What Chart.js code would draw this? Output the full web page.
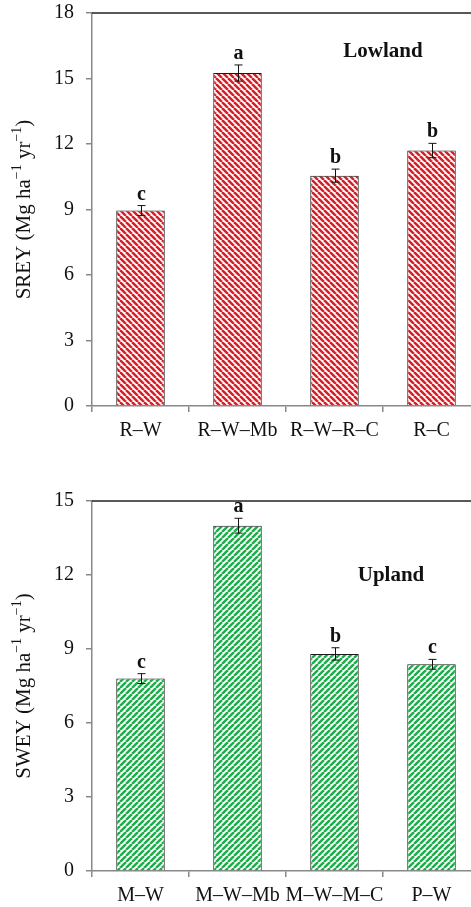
<!DOCTYPE html>
<html>
<head>
<meta charset="utf-8">
<script src="https://cdn.jsdelivr.net/npm/chart.js@4.4.1/dist/chart.umd.min.js"></script>
<style>
html, body { margin: 0; padding: 0; background: #fff; overflow: hidden; width: 471px; height: 907px; }
.box { position: absolute; left: 0; width: 500px; }
#topBox { top: 0; height: 445px; }
#bottomBox { top: 460px; height: 447px; }
</style>
</head>
<body>
<div class="box" id="topBox"><canvas id="lowlandChart"></canvas></div>
<div class="box" id="bottomBox"><canvas id="uplandChart"></canvas></div>
<script>
// Lowland panel (rice based systems)
const lowlandSystems = ['R–W', 'R–W–Mb', 'R–W–R–C', 'R–C'];
const lowlandSrey = [8.95, 15.25, 10.55, 11.7];
const lowlandErr = [0.23, 0.37, 0.3, 0.33];
const lowlandLetters = ['c', 'a', 'b', 'b'];
const lowlandTicks = [0, 3, 6, 9, 12, 15, 18];

// Upland panel (maize based systems)
const uplandSystems = ['M–W', 'M–W–Mb', 'M–W–M–C', 'P–W'];
const uplandSwey = [7.8, 14.0, 8.8, 8.38];
const uplandErr = [0.2, 0.3, 0.25, 0.2];
const uplandLetters = ['c', 'a', 'b', 'c'];
const uplandTicks = [0, 3, 6, 9, 12, 15];

const serif = '"Liberation Serif", "Times New Roman", serif';

function stripes(color, dir) {
    const p = 6;
    const c = document.createElement('canvas');
    c.width = p; c.height = p;
    const g = c.getContext('2d');
    g.fillStyle = '#fff';
    g.fillRect(0, 0, p, p);
    g.strokeStyle = color;
    g.lineWidth = 2.5;
    for (let k = -1; k <= 1; k++) {
        g.beginPath();
        if (dir > 0) { g.moveTo(k * p, 0); g.lineTo(k * p + p, p); }
        else { g.moveTo(k * p, p); g.lineTo(k * p + p, 0); }
        g.stroke();
    }
    return g.createPattern(c, 'repeat');
}

function drawYTitle(ctx, parts, cx, cy) {
    ctx.save();
    ctx.translate(cx, cy);
    ctx.rotate(-Math.PI / 2);
    const base = '21px ' + serif, sup = '14px ' + serif;
    let w = 0;
    parts.forEach(([t, s]) => { ctx.font = s ? sup : base; w += ctx.measureText(t).width; });
    let x = -w / 2;
    ctx.fillStyle = '#111';
    ctx.textAlign = 'left';
    ctx.textBaseline = 'alphabetic';
    parts.forEach(([t, s]) => {
        ctx.font = s ? sup : base;
        ctx.fillText(t, x, s ? -2 : 7);
        x += ctx.measureText(t).width;
    });
    ctx.restore();
}

const extras = {
    id: 'extras',
    afterDatasetsDraw(chart, args, opts) {
        const { ctx, chartArea, scales: { x, y } } = chart;
        ctx.save();
        // top frame line
        ctx.strokeStyle = '#222';
        ctx.lineWidth = 1.5;
        ctx.beginPath();
        ctx.moveTo(chartArea.left, chartArea.top);
        ctx.lineTo(chartArea.right, chartArea.top);
        ctx.stroke();

        // error bars + significance letters
        const vals = chart.data.datasets[0].data;
        ctx.strokeStyle = '#111';
        ctx.lineWidth = 1;
        ctx.fillStyle = '#111';
        ctx.font = 'bold 20px ' + serif;
        ctx.textAlign = 'center';
        ctx.textBaseline = 'alphabetic';
        vals.forEach((v, i) => {
            const cx = Math.round(x.getPixelForValue(i)) + 0.5;
            const hi = y.getPixelForValue(v + opts.err[i]);
            const lo = y.getPixelForValue(v - opts.err[i]);
            ctx.beginPath();
            ctx.moveTo(cx, hi); ctx.lineTo(cx, lo);
            ctx.moveTo(cx - 4, hi); ctx.lineTo(cx + 4, hi);
            ctx.moveTo(cx - 4, lo); ctx.lineTo(cx + 4, lo);
            ctx.stroke();
            ctx.fillText(opts.letters[i], cx, hi - 6);
        });

        // panel name
        ctx.font = 'bold 21px ' + serif;
        ctx.fillText(opts.panel, opts.panelX, y.getPixelForValue(opts.panelY));
        ctx.restore();

        drawYTitle(ctx, opts.title, 23, (chartArea.top + chartArea.bottom) / 2);
    }
};

function makeChart(id, labels, values, ticks, fill, extraOpts, padTop, xHeight) {
    const ctx = document.getElementById(id).getContext('2d');
    return new Chart(ctx, {
        type: 'bar',
        data: {
            labels: labels,
            datasets: [{
                data: values,
                backgroundColor: fill,
                borderColor: '#1a1a1a',
                borderWidth: 1,
                borderSkipped: 'bottom',
                categoryPercentage: 1,
                barPercentage: 0.5
            }]
        },
        options: {
            responsive: true,
            maintainAspectRatio: false,
            animation: false,
            layout: { padding: { top: padTop, right: 20, left: 0, bottom: 0 } },
            plugins: {
                legend: { display: false },
                tooltip: { enabled: false },
                extras: extraOpts
            },
            scales: {
                x: {
                    offset: true,
                    grid: { offset: true, drawOnChartArea: false, drawTicks: true, tickLength: 6, color: '#888', lineWidth: 1.5 },
                    border: { color: '#888', width: 1.5 },
                    ticks: { color: '#111', font: { family: serif, size: 20 }, padding: 7, maxRotation: 0, autoSkip: false },
                    afterFit: s => { s.height = xHeight; }
                },
                y: {
                    min: 0,
                    max: ticks[ticks.length - 1],
                    afterBuildTicks: s => { s.ticks = ticks.map(v => ({ value: v })); },
                    grid: { drawOnChartArea: false, drawTicks: true, tickLength: 6, color: '#888', lineWidth: 1.5 },
                    border: { color: '#888', width: 1.5 },
                    ticks: { color: '#111', font: { family: serif, size: 20 }, padding: 12 },
                    afterFit: s => { s.width = 92; s.paddingTop = 0; s.paddingBottom = 0; }
                }
            }
        },
        plugins: [extras]
    });
}

document.addEventListener('DOMContentLoaded', function () {
    makeChart('lowlandChart', lowlandSystems, lowlandSrey, lowlandTicks, stripes('#d41f27', 1), {
        err: lowlandErr,
        letters: lowlandLetters,
        panel: 'Lowland',
        panelX: 383,
        panelY: 16.0,
        title: [['SREY (Mg ha', false], ['−1', true], [' yr', false], ['−1', true], [')', false]]
    }, 13, 39);

    makeChart('uplandChart', uplandSystems, uplandSwey, uplandTicks, stripes('#1dad4b', -1), {
        err: uplandErr,
        letters: uplandLetters,
        panel: 'Upland',
        panelX: 391,
        panelY: 11.75,
        title: [['SWEY (Mg ha', false], ['−1', true], [' yr', false], ['−1', true], [')', false]]
    }, 41, 36);
});
</script>
</body>
</html>
